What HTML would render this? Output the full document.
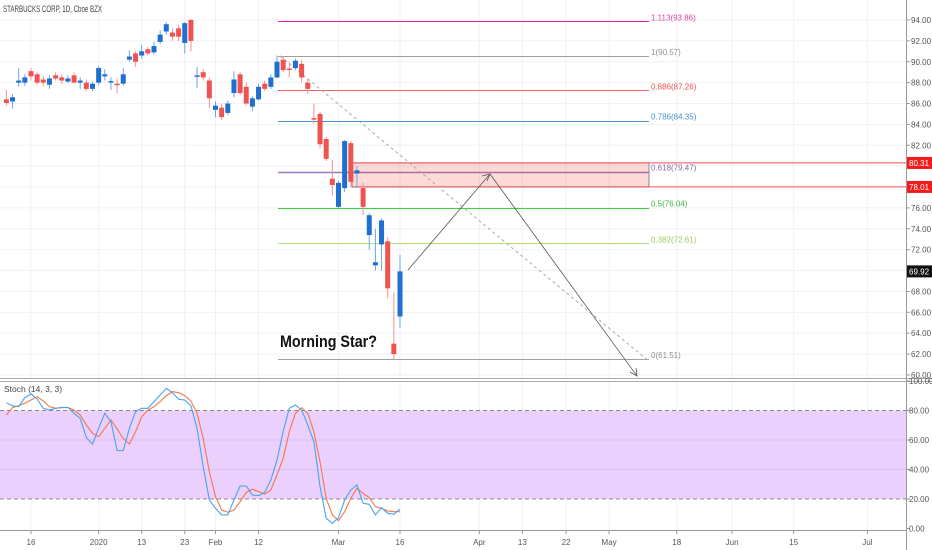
<!DOCTYPE html>
<html><head><meta charset="utf-8"><style>
html,body{margin:0;padding:0;background:#fff;}
svg{display:block;font-family:"Liberation Sans",sans-serif;}
</style></head><body>
<svg id="c" width="932" height="550" viewBox="0 0 932 550"></svg>
<script>
// ---- data ----
const opens  =[86.4,86.2,88.0,88.0,89.1,88.8,88.3,87.8,88.7,88.5,88.1,88.7,88.0,88.0,87.4,88.0,88.6,88.1,87.9,87.9,90.2,90.8,90.6,91.2,90.9,91.9,92.9,92.8,93.2,91.8,94.0,88.6,89.0,88.2,85.4,85.6,85.1,87.0,88.8,87.6,85.7,86.4,87.9,87.6,88.5,90.2,89.35,89.4,89.8,88.0,84.6,85.0,82.6,78.8,76.1,77.9,82.2,79.3,77.9,73.4,70.5,72.5,72.8,63.0,65.6];
const closes =[86.05,86.6,88.2,88.5,88.6,88.0,88.0,88.4,88.4,88.2,88.4,88.0,88.2,87.4,87.9,89.4,88.8,88.15,87.8,88.8,90.5,90.0,91.0,90.8,91.5,92.6,93.6,92.4,92.4,93.7,92.0,88.7,88.5,86.5,85.8,84.7,86.0,88.3,87.0,86.0,86.5,87.6,87.4,88.5,90.0,89.2,89.3,90.1,88.5,87.4,84.5,82.1,80.7,78.2,78.4,82.4,78.5,79.6,76.1,75.3,70.8,74.8,68.3,62.0,69.92];
const highs  =[87.3,86.9,89.4,88.8,89.4,89.0,88.6,88.7,89.0,88.8,88.7,89.0,88.5,88.3,88.1,89.6,89.3,88.5,88.4,89.4,91.1,91.0,91.6,91.4,91.9,93.0,93.8,93.2,93.5,93.8,94.1,89.5,89.3,88.5,86.2,86.0,86.3,89.1,89.0,88.0,86.7,87.9,88.2,88.8,90.6,90.5,90.0,90.3,90.2,88.4,86.0,85.2,82.8,80.6,78.6,82.5,82.4,80.0,78.4,75.5,74.0,75.0,73.2,67.9,71.5];
const lows   =[85.8,85.5,87.6,87.7,88.2,87.8,87.7,87.4,88.2,87.9,88.0,87.9,87.4,87.2,87.2,87.8,88.2,87.3,87.0,87.7,90.0,89.5,90.3,90.6,90.7,91.7,92.6,92.0,92.0,90.8,91.0,87.5,88.2,85.6,84.7,84.4,84.9,86.6,86.8,85.8,85.3,86.3,87.2,87.4,88.4,89.0,88.5,89.2,88.0,86.9,84.1,81.7,80.5,77.2,76.0,77.5,78.0,77.9,75.3,72.0,70.0,70.0,67.3,61.5,64.5];
const stochK =[85.3,83.1,82.6,88.7,91.2,87.8,81.5,80.3,81.5,82.1,82.1,78.1,74.7,61.6,57.3,67.9,78.1,72.4,52.8,52.8,67.9,79.2,81.5,81.5,86.0,90.5,95.0,92.1,87.6,87.1,83.3,67.9,41.9,19.3,13.7,9.2,9.2,19.3,28.8,28.8,22.7,22.3,24.5,32.9,46.4,65.7,81.5,83.7,80.3,70.2,58.9,28.4,6.9,3.5,7.3,19.3,26.1,29.5,17.1,16.4,9.2,14.1,10.3,9.6,13.2];
const stochD =[77.0,81.9,83.3,84.9,87.1,89.4,86.4,82.6,81.5,81.9,82.1,80.3,77.0,70.2,64.5,62.3,67.9,73.6,67.5,61.1,57.3,65.6,75.8,80.3,82.6,86.0,90.1,92.8,92.1,90.1,86.4,78.1,61.1,38.5,21.6,12.5,11.0,12.5,18.2,24.5,26.6,25.0,23.4,26.1,36.3,47.6,65.6,78.1,81.9,78.1,65.6,45.3,20.5,9.2,5.3,11.4,20.5,27.2,23.8,20.9,14.8,13.7,11.9,11.4,11.4];
const priceTicks=[94,92,90,88,86,84,82,80,78,76,74,72,70,68,66,64,62,60];
const stochTicks=[100,80,60,40,20,0];
const dateLabels=["16","2020","13","23","Feb","12","Mar","16","Apr","13","22","May","18","Jun","15","Jul"];
const dateIdx=[4,15,22,29,34,41,54,64,76.9,83.9,91,98,109,118,128,140];
const fibLevels=["1.113","1","0.886","0.786","0.618","0.5","0.382","0"];
const fibPrices=[93.86,90.57,87.26,84.35,79.47,76.04,72.61,61.51];
const zoneTop=80.31, zoneBot=78.01, lastPrice=69.92;

// ---- scales ----
const X=i=>6.4+6.15*i;
const Y=p=>20+(94-p)*10.44;
const SY=v=>381+(100-v)*1.475;
const svg=document.getElementById('c');
const NS='http://www.w3.org/2000/svg';
function mk(tag,at,parent){const e=document.createElementNS(NS,tag);for(const k in at)e.setAttribute(k,at[k]);(parent||svg).appendChild(e);return e;}

// grid
const grid=mk('g',{});


priceTicks.forEach(p=>mk('line',{x1:0,x2:906,y1:Y(p),y2:Y(p),stroke:'#eef2f6','stroke-width':1},grid));
dateIdx.forEach(i=>{mk('line',{x1:X(i),x2:X(i),y1:0,y2:378,stroke:'#eef2f6'},grid);mk('line',{x1:X(i),x2:X(i),y1:382,y2:530,stroke:'#eef2f6'},grid);});

// stoch band
const band=mk('rect',{x:0,y:SY(80),width:906,height:SY(20)-SY(80),fill:'#ebcffd'});


[60,40].forEach(v=>mk('line',{x1:0,x2:906,y1:SY(v),y2:SY(v),stroke:'#dcc0f0'}));
[80,20].forEach(v=>{const l=mk('line',{x1:0,x2:906,y1:SY(v),y2:SY(v),stroke:'#888','stroke-dasharray':'4 3'});});

// fib
const fib=mk('g',{});


const fibCols=['#e91e9c','#a0a0a0','#f06060','#4a90d0','#9a7ab8','#3cd03c','#b4dc7c','#a0a0a0'];
const fibTxt=['#e040a8','#909090','#ef5050','#4a90d0','#8a6aa8','#3cb43c','#9ccc50','#909090'];
// zone
const zone=mk('rect',{x:352,y:Y(zoneTop),width:297,height:Y(zoneBot)-Y(zoneTop),fill:'rgba(244,67,54,0.2)',stroke:'#888','stroke-width':1});


mk('line',{x1:352,x2:906,y1:Y(zoneTop),y2:Y(zoneTop),stroke:'#f05050'});
mk('line',{x1:352,x2:906,y1:Y(zoneBot),y2:Y(zoneBot),stroke:'#f05050'});
fibPrices.forEach((p,k)=>{
  const yy=Math.round(Y(p))+0.5;
  mk('line',{x1:278,x2:649,y1:yy,y2:yy,stroke:fibCols[k],'stroke-width':k==4?1.5:1},fib);
  const t=mk('text',{x:651,y:Y(p)-1,'font-size':8,fill:fibTxt[k]},fib);
  t.textContent=fibLevels[k]+'('+p.toFixed(2)+')';
  
  
});

// trend dashed line
const tl=mk('line',{x1:280,y1:Y(90.57),x2:649,y2:Y(61.51)+2,stroke:'#aaa','stroke-dasharray':'3 3'});


// projection arrows
const pr=mk('polyline',{points:'408,270 490,174 637,376',fill:'none',stroke:'#555','stroke-width':0.8});


mk('polyline',{points:'630,372 637,376 636,368',fill:'none',stroke:'#555','stroke-width':0.8});
mk('polyline',{points:'482,176 490,174 487,181',fill:'none',stroke:'#555','stroke-width':0.8});

// candles
const cg=mk('g',{});


opens.forEach((o,i)=>{
  const c=closes[i],up=c>=o,x=X(i);
  const col=up?'#1e6fd0':'#ef5350',wc=up?'#6aa6e6':'#f39090';
  mk('line',{x1:x,x2:x,y1:Y(highs[i]),y2:Y(lows[i]),stroke:wc,'stroke-width':1},cg);
  const t=Y(Math.max(o,c)),b=Y(Math.min(o,c));
  const r=mk('rect',{x:x-2.5,y:t,width:5,height:Math.max(1.5,b-t),fill:col},cg);
  
  
});

// text
const ms=mk('text',{x:280,y:347,'font-size':17,'font-weight':'bold',fill:'#111',textLength:97,lengthAdjust:'spacingAndGlyphs'});
ms.textContent='Morning Star?';


const ttl=mk('text',{x:3,y:12,'font-size':9,fill:'#444',textLength:99,lengthAdjust:'spacingAndGlyphs'});
ttl.textContent='STARBUCKS CORP, 1D, Cboe BZX';


const sl=mk('text',{x:4,y:392,'font-size':8.5,fill:'#444'});
sl.textContent='Stoch (14, 3, 3)';



// stoch lines
const kp=stochK.map((v,i)=>X(i)+','+SY(v)).join(' ');
const dp=stochD.map((v,i)=>X(i)+','+SY(v)).join(' ');
const dl=mk('polyline',{points:dp,fill:'none',stroke:'#f57845','stroke-width':1.1});


const kl=mk('polyline',{points:kp,fill:'none',stroke:'#4aa3f0','stroke-width':1.1});



// pane separator and axes
mk('rect',{x:0,y:378,width:906,height:3,fill:'#fff'});
mk('line',{x1:0,x2:932,y1:378.5,y2:378.5,stroke:'#aaa'});
mk('line',{x1:0,x2:932,y1:381.5,y2:381.5,stroke:'#aaa'});
mk('line',{x1:0,x2:906,y1:530.5,y2:530.5,stroke:'#999'});
mk('line',{x1:906.5,x2:906.5,y1:0,y2:550,stroke:'#999'});
const ax=mk('g',{});


priceTicks.forEach(p=>{mk('line',{x1:906,x2:910,y1:Y(p),y2:Y(p),stroke:'#999'},ax);const t=mk('text',{x:911,y:Y(p)+3,'font-size':8,fill:'#555'},ax);t.textContent=p.toFixed(2);});
const sax=mk('g',{});


stochTicks.forEach(v=>{mk('line',{x1:906,x2:910,y1:SY(v),y2:SY(v),stroke:'#999'},sax);const t=mk('text',{x:909,y:SY(v)+3,'font-size':8,fill:'#555'},sax);t.textContent=v.toFixed(2);});
const tax=mk('g',{});


dateLabels.forEach((d,k)=>{const x=X(dateIdx[k]);mk('line',{x1:x,x2:x,y1:530,y2:534,stroke:'#999'},tax);const t=mk('text',{x:x,y:545,'font-size':8,fill:'#555','text-anchor':'middle'},tax);t.textContent=d;});
// price tags
function tag(p,bg,name){const g=mk('g',{});mk('rect',{x:907,y:Y(p)-6,width:25,height:12,fill:bg},g);const t=mk('text',{x:909,y:Y(p)+3,'font-size':8,fill:'#fff'},g);t.textContent=p.toFixed(2);}
tag(zoneTop,'#f21b1b','zone-top-tag');
tag(zoneBot,'#f21b1b','zone-bottom-tag');
tag(lastPrice,'#111','last-price-tag');
</script>
</body></html>
